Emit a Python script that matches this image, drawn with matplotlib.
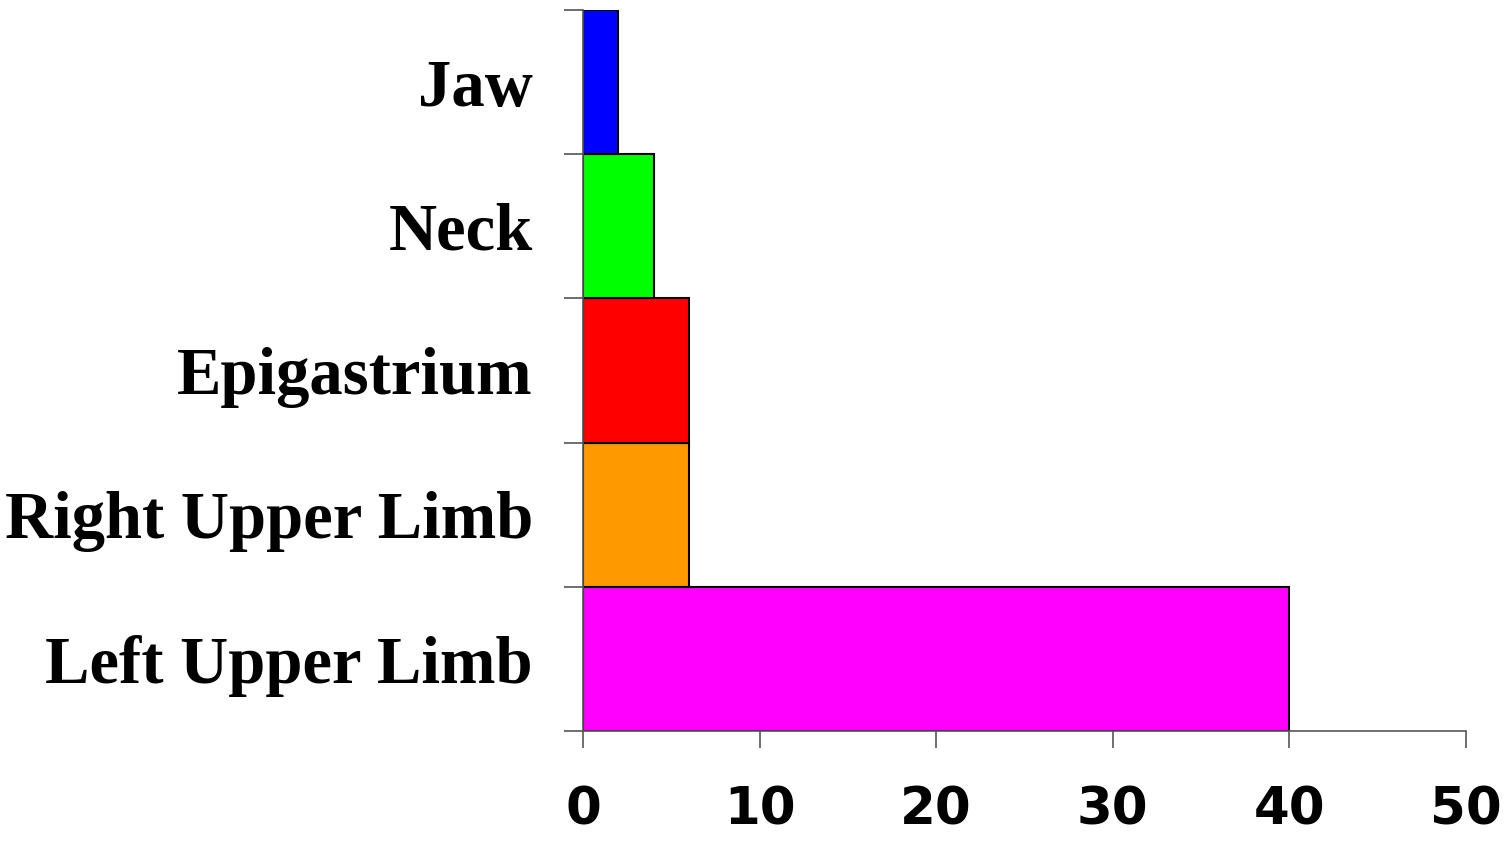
import matplotlib
matplotlib.use("Agg")
import matplotlib.pyplot as plt
import numpy as np

categories = ["Left Upper Limb", "Right Upper Limb", "Epigastrium", "Neck", "Jaw"]
values = [40, 6, 6, 4, 2]
colors = ["#FF00FF", "#FF9900", "#FF0000", "#00FF00", "#0000FF"]
xticks = [0, 10, 20, 30, 40, 50]

fig = plt.figure(figsize=(15.09, 8.41), dpi=100)
ax = fig.add_axes([583/1509, 110/841, (1466-583)/1509, (731-10)/841])

y = np.arange(len(categories))
ax.barh(y, values, height=1.0, color=colors, edgecolor="black", linewidth=1.5)

ax.set_xlim(0, 50)
ax.set_ylim(-0.5, len(categories) - 0.5)

for s in ["top", "right"]:
    ax.spines[s].set_visible(False)
for s in ["left", "bottom"]:
    ax.spines[s].set_color("#555555")
    ax.spines[s].set_linewidth(1.2)

ax.set_yticks(y)
ax.set_yticklabels(categories, fontfamily="Liberation Serif", fontweight="bold", fontsize=48)
ax.tick_params(axis="y", which="major", length=0, pad=36)
ax.set_yticks(np.arange(len(categories) + 1) - 0.5, minor=True)
ax.tick_params(axis="y", which="minor", length=14, width=1.2, color="#555555")

ax.set_xticks(xticks)
ax.set_xticklabels([str(t) for t in xticks], fontfamily="DejaVu Sans", fontweight="bold", fontsize=37)
ax.tick_params(axis="x", which="major", length=12, width=1.2, color="#555555", pad=27)

fig.savefig("out.png", dpi=100)
